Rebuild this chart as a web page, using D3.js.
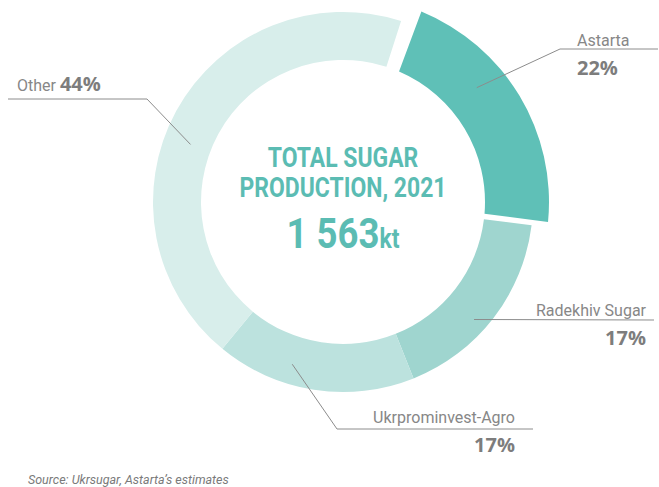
<!DOCTYPE html>
<html>
<head>
<meta charset="utf-8">
<script src="https://cdn.jsdelivr.net/npm/d3@7"></script>
<style>
  body { margin: 0; background: #fff; }
  svg { display: block; }
</style>
</head>
<body>
<svg id="chart" width="659" height="487"></svg>
<script>
// shares of total sugar production, 2021 (%)
var producers = ["Astarta", "Radekhiv Sugar", "Ukrprominvest-Agro", "Other"];
var shares = [22, 17, 17, 44];
var shareLabels = ["22%", "17%", "17%", "44%"];
var colors = ["#5fc0b7", "#9fd5cf", "#bce2de", "#d8eeeb"];

var totalTitle = ["TOTAL SUGAR", "PRODUCTION, 2021"];
var totalValue = "1 563";
var totalUnit = "kt";
var sourceNote = "Source: Ukrsugar, Astarta\u2019s estimates";

var width = 659, height = 487,
    cx = 343, cy = 202,
    outerR = 190, innerR = 142,
    startAngle = 17.8 * Math.PI / 180;

var svg = d3.select("#chart");
var g = svg.append("g").attr("transform", "translate(" + cx + "," + cy + ")");

var pie = d3.pie()
    .sort(null)
    .value(function (d) { return d; })
    .startAngle(startAngle)
    .endAngle(startAngle + 2 * Math.PI);

var arcs = pie(shares);

var ringArc = d3.arc().innerRadius(innerR).outerRadius(outerR);
// highlighted slice is thicker and padded away from its neighbours
var bigArc = d3.arc().innerRadius(innerR).outerRadius(206)
    .padRadius(175).padAngle(0.08);

g.selectAll("path.slice")
    .data(arcs)
    .enter().append("path")
    .attr("class", "slice")
    .attr("fill", function (d, i) { return colors[i]; })
    .attr("d", function (d, i) {
        if (i === 0) {
            // shift a bit clockwise so the top gap is wider than the lower one
            var s = 8 / 175;
            return bigArc({ startAngle: d.startAngle + s, endAngle: d.endAngle + s * 0.2 });
        }
        return ringArc(d);
    });

// callout layout: anchor inside the slice (fraction of its angle, radius) + line/label placement
var callouts = [
    { frac: 0.40, r: 176, path: [[560, 49], [658, 49]], x: 577, y: 46, anchor: "start", py: 75 },
    { frac: 0.57, r: 176, path: [[654, 320]], x: 646, y: 316, anchor: "end", py: 345 },
    { frac: 0.64, r: 170, path: [[337, 429], [533, 429]], x: 515, y: 423, anchor: "end", py: 452 },
    { frac: 0.45, r: 163, path: [[147, 99], [8, 99]], x: 17, y: 91, anchor: "start", inline: true }
];

var line = d3.line();

arcs.forEach(function (d, i) {
    var c = callouts[i];
    var a = d.startAngle + (d.endAngle - d.startAngle) * c.frac;
    var p0 = [cx + c.r * Math.sin(a), cy - c.r * Math.cos(a)];
    svg.append("path")
        .attr("d", line([p0].concat(c.path)))
        .attr("fill", "none")
        .attr("stroke", "#8c8c8c")
        .attr("stroke-width", 1);

    if (c.inline) {
        var t = svg.append("text")
            .attr("x", c.x).attr("y", c.y)
            .attr("text-anchor", c.anchor);
        t.append("tspan")
            .attr("font-family", "Roboto, 'Open Sans', sans-serif")
            .attr("font-size", 16).attr("fill", "#878787")
            .text(producers[i] + " ");
        t.append("tspan")
            .attr("font-family", "'Open Sans', Roboto, sans-serif")
            .attr("font-weight", 700)
            .attr("font-size", 20).attr("fill", "#7d7d7d")
            .text(shareLabels[i]);
    } else {
        svg.append("text")
            .attr("x", c.x).attr("y", c.y)
            .attr("text-anchor", c.anchor)
            .attr("font-family", "Roboto, 'Open Sans', sans-serif")
            .attr("font-size", 16).attr("fill", "#878787")
            .text(producers[i]);
        svg.append("text")
            .attr("x", c.x).attr("y", c.py)
            .attr("text-anchor", c.anchor)
            .attr("font-family", "'Open Sans', Roboto, sans-serif")
            .attr("font-weight", 700)
            .attr("font-size", 20).attr("fill", "#7d7d7d")
            .text(shareLabels[i]);
    }
});

// centre text, squeezed horizontally to mimic a condensed face
var teal = "#5bbcb3";
var centre = svg.append("g")
    .attr("transform", "translate(" + cx + ",0) scale(0.85,1)")
    .attr("font-family", "Roboto, sans-serif")
    .attr("font-weight", 700)
    .attr("fill", teal)
    .attr("text-anchor", "middle");

centre.selectAll("text.title")
    .data(totalTitle)
    .enter().append("text")
    .attr("class", "title")
    .attr("x", 0)
    .attr("y", function (d, i) { return 167 + i * 30; })
    .attr("font-size", 27)
    .text(function (d) { return d; });

var big = centre.append("text").attr("x", 0).attr("y", 248);
big.append("tspan").attr("font-size", 43).text(totalValue);
big.append("tspan").attr("font-size", 27).text(totalUnit);

// source note
svg.append("text")
    .attr("x", 28).attr("y", 484)
    .attr("font-family", "Roboto, sans-serif")
    .attr("font-style", "italic")
    .attr("font-size", 12.5)
    .attr("fill", "#7a7a7a")
    .text(sourceNote);
</script>
</body>
</html>
